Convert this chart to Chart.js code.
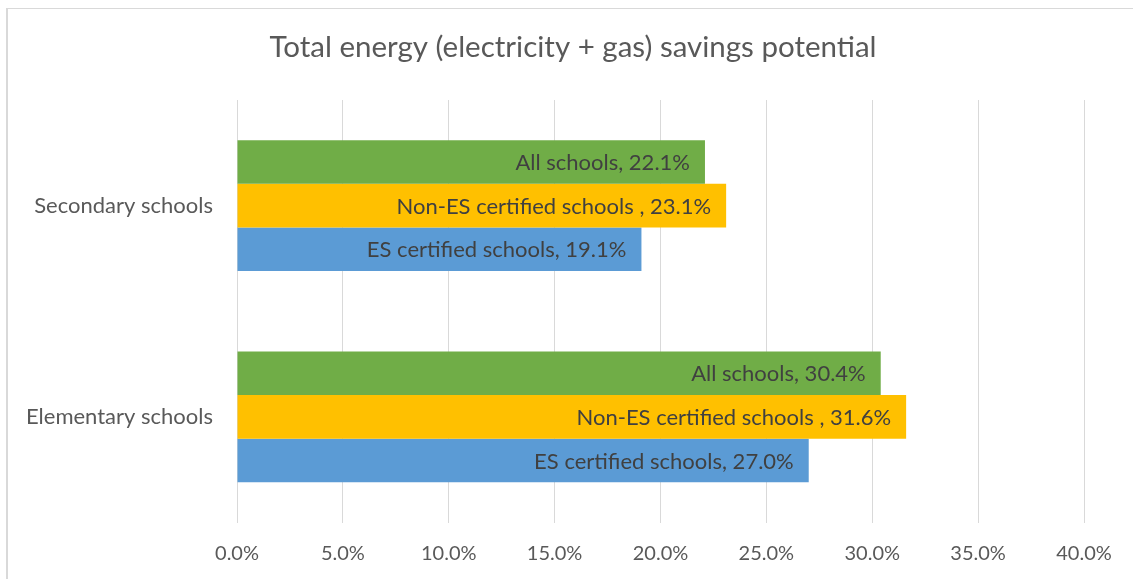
<!DOCTYPE html>
<html>
<head>
<meta charset="utf-8">
<script src="https://cdn.jsdelivr.net/npm/chart.js@4"></script>
<style>
  html, body { margin: 0; padding: 0; background: #fff; }
  #wrap { position: relative; width: 1133px; height: 579px; overflow: hidden; }
  #frame { position: absolute; left: 6px; top: 8px; width: 1200px; height: 700px;
           border-left: 2px solid #d9d9d9; border-top: 1px solid #d9d9d9; }
  #myChart { position: absolute; left: 0; top: 0; }
</style>
</head>
<body>
<div id="wrap">
  <div id="frame"></div>
  <canvas id="myChart" width="1133" height="579"></canvas>
</div>
<script>
const categories = ["Secondary schools", "Elementary schools"];
const series_names = ["All schools", "Non-ES certified schools ", "ES certified schools"];
const all_schools = [22.1, 30.4];
const non_es_schools = [23.1, 31.6];
const es_schools = [19.1, 27.0];
const tick_values = [0, 5, 10, 15, 20, 25, 30, 35, 40];
const bar_colors = ["#70ad47", "#ffc000", "#5b9bd5"];
const chart_title = "Total energy (electricity + gas) savings potential";

const FONT = "Lato, 'Liberation Sans', sans-serif";

/* title centred on the whole frame, not on the plot */
const frameTitle = {
    id: "frameTitle",
    afterDraw(chart) {
        const ctx = chart.ctx;
        ctx.save();
        ctx.font = "29.5px " + FONT;
        ctx.fillStyle = "#595959";
        ctx.textAlign = "center";
        ctx.textBaseline = "middle";
        ctx.fillText(chart_title, 573, 47);
        ctx.restore();
    }
};

/* labels drawn at the inside end of each bar */
const barLabels = {
    id: "barLabels",
    afterDatasetsDraw(chart) {
        const ctx = chart.ctx;
        ctx.save();
        ctx.font = "22px " + FONT;
        ctx.fillStyle = "#404040";
        ctx.textAlign = "right";
        ctx.textBaseline = "middle";
        chart.data.datasets.forEach((ds, i) => {
            const meta = chart.getDatasetMeta(i);
            meta.data.forEach((bar, j) => {
                const txt = ds.label + ", " + ds.data[j].toFixed(1) + "%";
                ctx.fillText(txt, bar.x - 15, bar.y + 1);
            });
        });
        ctx.restore();
    }
};

const data = {
    labels: categories,
    datasets: [
        { label: series_names[0], data: all_schools, backgroundColor: bar_colors[0] },
        { label: series_names[1], data: non_es_schools, backgroundColor: bar_colors[1] },
        { label: series_names[2], data: es_schools, backgroundColor: bar_colors[2] }
    ]
};

const config = {
    type: "bar",
    data,
    options: {
        responsive: false,
        animation: false,
        indexAxis: "y",
        datasets: {
            bar: { categoryPercentage: 0.62, barPercentage: 1.0 }
        },
        layout: { padding: { left: 0, right: 49, top: 100, bottom: 0 } },
        plugins: {
            legend: { display: false },
            tooltip: { enabled: false },
            title: { display: false }
        },
        scales: {
            x: {
                min: 0,
                max: 40,
                afterBuildTicks(scale) {
                    scale.ticks = tick_values.map(v => ({ value: v }));
                },
                afterFit(scale) { scale.height = 56.5; },
                grid: { color: "#d9d9d9", lineWidth: 1, drawTicks: false },
                border: { display: false },
                ticks: {
                    color: "#595959",
                    padding: 19,
                    font: { family: FONT, size: 20 },
                    callback: (v) => Number(v).toFixed(1) + "%"
                }
            },
            y: {
                afterFit(scale) { scale.width = 237; },
                grid: { display: false },
                border: { display: false },
                ticks: {
                    color: "#595959",
                    padding: 16,
                    font: { family: FONT, size: 22 }
                }
            }
        }
    },
    plugins: [barLabels, frameTitle]
};

const ctx = document.getElementById("myChart").getContext("2d");
const myChart = new Chart(ctx, config);
</script>
</body>
</html>
